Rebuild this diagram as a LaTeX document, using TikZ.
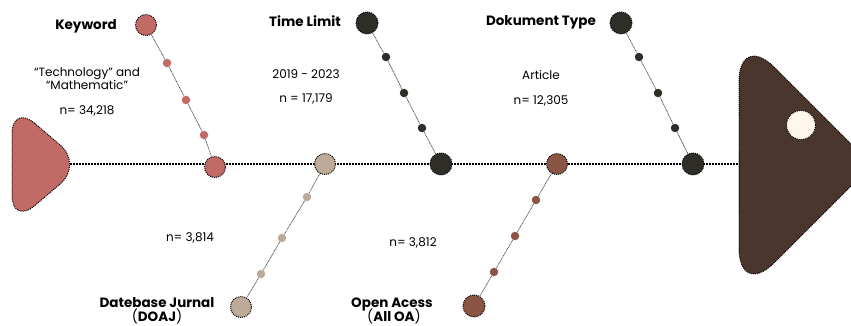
\documentclass[tikz,border=0pt]{standalone}
\usepackage{fontspec}
\setmainfont{Poppins}
\definecolor{rose}{RGB}{193,106,102}
\definecolor{tan}{RGB}{190,170,152}
\definecolor{coal}{RGB}{46,45,40}
\definecolor{rust}{RGB}{139,85,70}
\definecolor{cocoa}{RGB}{74,54,44}
\definecolor{cream}{RGB}{255,246,236}
\begin{document}
\begin{tikzpicture}[x=1pt,y=-1pt,
  dotline/.style={draw=black,line width=1pt,dash pattern=on 1pt off 1pt},
  bigdot/.style={circle,inner sep=0pt,minimum size=21pt,dotline},
  smalldot/.style={circle,inner sep=0pt,minimum size=8.5pt},
  spine/.style={line width=1.6pt,dash pattern=on 1.6pt off 1.4pt},
  branch/.style={draw=black!70,line width=0.7pt,dash pattern=on 1pt off 0.6pt},
  title/.style={font=\bfseries\fontsize{13.5}{14}\selectfont,align=center,inner sep=0pt},
  info/.style={font=\fontsize{12}{13}\selectfont,align=center,inner sep=0pt}]
\useasboundingbox (0,0) rectangle (851,325);
\clip (0,0) rectangle (851,325);

% head and tail of the fish
\fill[rose] (12,104) [rounded corners=30pt] -- (83,164.5) -- (12,225) -- cycle;
\draw[dotline,rounded corners=30pt] (12,104) -- (83,164.5) -- (12,225) -- cycle;
\filldraw[fill=cocoa,dotline] (739,165) [rounded corners=50pt] -- (739,32) [rounded corners=4pt]
  -- (872,165) [rounded corners=50pt] -- (739,298) -- (739,200) -- cycle;
\node[circle,inner sep=0pt,minimum size=29pt,fill=cream,dotline] (eye) at (801,125) {};

% backbone
\coordinate (ltip) at (70,164);
\coordinate (rbase) at (739,164);
\draw[spine] (ltip) -- (rbase);

% Keyword branch
\node[bigdot,fill=rose] (k0) at (146,25) {};
\node[smalldot,fill=rose] (k1) at (167,63) {};
\node[smalldot,fill=rose] (k2) at (186,100) {};
\node[smalldot,fill=rose] (k3) at (204,135) {};
\node[bigdot,fill=rose] (k4) at (215,167) {};
\draw[branch] (k0) -- (k1) -- (k2) -- (k3) -- (k4);

% DOAJ branch
\node[bigdot,fill=tan] (d0) at (325,164) {};
\node[smalldot,fill=tan] (d1) at (307,197) {};
\node[smalldot,fill=tan] (d2) at (282,238) {};
\node[smalldot,fill=tan] (d3) at (261,274) {};
\node[bigdot,fill=tan] (d4) at (241,307) {};
\draw[branch] (d0) -- (d1) -- (d2) -- (d3) -- (d4);

% Time limit branch
\node[bigdot,fill=coal,minimum size=22pt] (t0) at (367,23) {};
\node[smalldot,fill=coal] (t1) at (386,57) {};
\node[smalldot,fill=coal] (t2) at (404,93) {};
\node[smalldot,fill=coal] (t3) at (422,128) {};
\node[bigdot,fill=coal,minimum size=22pt] (t4) at (441,164) {};
\draw[branch] (t0) -- (t1) -- (t2) -- (t3) -- (t4);

% Open access branch
\node[bigdot,fill=rust] (o0) at (557,164) {};
\node[smalldot,fill=rust] (o1) at (536,200) {};
\node[smalldot,fill=rust] (o2) at (515,236) {};
\node[smalldot,fill=rust] (o3) at (494,272) {};
\node[bigdot,fill=rust,minimum size=22pt] (o4) at (474,306) {};
\draw[branch] (o0) -- (o1) -- (o2) -- (o3) -- (o4);

% Document type branch
\node[bigdot,fill=coal,minimum size=22pt] (p0) at (621,23) {};
\node[smalldot,fill=coal] (p1) at (639,57) {};
\node[smalldot,fill=coal] (p2) at (658,93) {};
\node[smalldot,fill=coal] (p3) at (675,128) {};
\node[bigdot,fill=coal,minimum size=22pt] (p4) at (693,164) {};
\draw[branch] (p0) -- (p1) -- (p2) -- (p3) -- (p4);

% labels
\node[title] (kt) at (86,26) {Keyword};
\node[info] (kq) at (87,79) {“Technology” and\\“Mathematic”};
\node[info] (kn) at (87,111) {n= 34,218};

\node[title] (tt) at (305,21) {Time Limit};
\node[info] (ty) at (306,74) {2019 - 2023};
\node[info] (tn) at (306,99) {n = 17,179};

\node[title] (pt) at (541,22) {Dokument Type};
\node[info] (py) at (541,75) {Article};
\node[info] (pn) at (541,101) {n= 12,305};

\node[info] (dn) at (190,238) {n= 3,814};
\node[info] (on) at (413,243) {n= 3,812};

\node[title] (dt) at (157,303) {Datebase Jurnal};
\node[title] (dk) at (157,316) {{\mdseries(}DOAJ{\mdseries)}};
\node[title] (ot) at (392,304) {Open Acess};
\node[title] (ok) at (394,316) {{\mdseries(}All OA{\mdseries)}};
\end{tikzpicture}
\end{document}
